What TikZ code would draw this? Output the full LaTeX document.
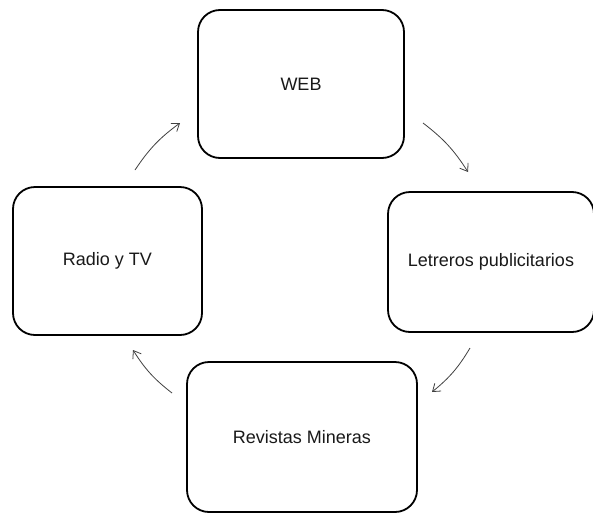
\documentclass[tikz,border=0pt]{standalone}
\usepackage{fontspec}
\setmainfont{Liberation Sans}
\usetikzlibrary{arrows.meta}
\begin{document}
\begin{tikzpicture}[x=1pt,y=-1pt,
  stage/.style={draw=black, line width=1.8pt, rounded corners=22pt,
    fill=white, font=\fontsize{18}{21}\selectfont, text=black!90, inner sep=0pt},
  cycle/.style={draw=black!75, line width=0.8pt,
    -{Straight Barb[length=7pt,width=10pt,line width=0.8pt]}, bend left=10}]
  \useasboundingbox (0,0) rectangle (593,514);
  \fill[white] (0,0) rectangle (593,514);

  % the four channels
  \node[stage, minimum width=206pt, minimum height=148pt] (web) at (301,84) {WEB};
  \node[stage, minimum width=206pt, minimum height=140pt] (letreros) at (491,262) {Letreros publicitarios};
  \node[stage, minimum width=189pt, minimum height=148pt] (radio) at (107.5,261) {Radio y TV};
  \node[stage, minimum width=230pt, minimum height=150pt] (revistas) at (302,437) {Revistas Mineras};

  % ends of the circular arrows
  \coordinate (a1) at (135,170);  \coordinate (b1) at (180,123);
  \coordinate (a2) at (423,123);  \coordinate (b2) at (468,172);
  \coordinate (a3) at (470,348);  \coordinate (b3) at (432,392);
  \coordinate (a4) at (172,393);  \coordinate (b4) at (133,350);

  \draw[cycle] (a1) to (b1);
  \draw[cycle] (a2) to (b2);
  \draw[cycle] (a3) to (b3);
  \draw[cycle] (a4) to (b4);
\end{tikzpicture}
\end{document}
